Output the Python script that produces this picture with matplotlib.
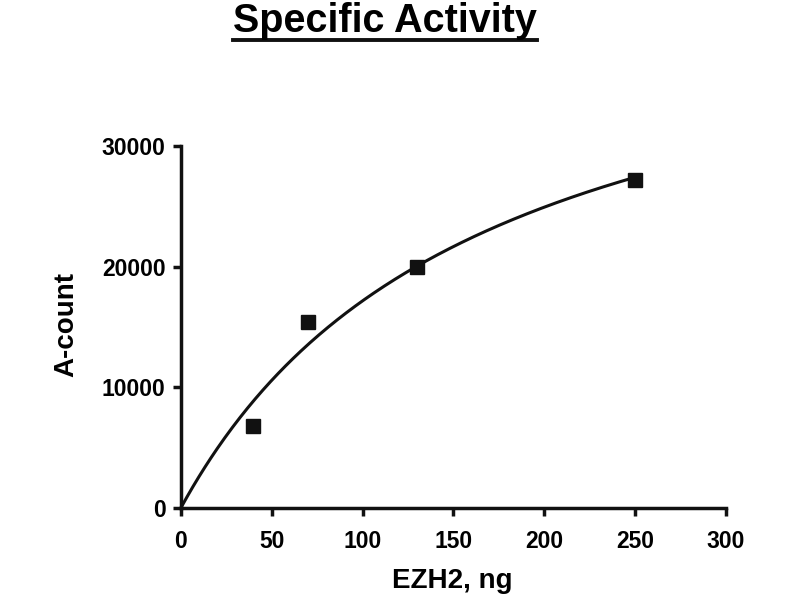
import numpy as np
import matplotlib
matplotlib.use("Agg")
import matplotlib.pyplot as plt
from matplotlib.lines import Line2D

# Data
ezh2_ng = [40, 70, 130, 250]
a_count = [6800, 15400, 20000, 27200]
x_ticks = [0, 50, 100, 150, 200, 250, 300]
y_ticks = [0, 10000, 20000, 30000]
title = "Specific Activity"
x_label = "EZH2, ng"
y_label = "A-count"

plt.rcParams['font.family'] = ['Liberation Sans', 'DejaVu Sans']
plt.rcParams['font.weight'] = 'bold'

# Hyperbolic (Michaelis-Menten type) least-squares fit through the data
xd = np.array(ezh2_ng, float)
yd = np.array(a_count, float)
best = None
for K in np.linspace(10, 600, 5901):
    f = xd / (K + xd)
    V = (f @ yd) / (f @ f)
    err = np.sum((yd - V * f) ** 2)
    if best is None or err < best[0]:
        best = (err, K, V)
_, Kfit, Vfit = best
xc = np.linspace(0, max(ezh2_ng), 300)
yc = Vfit * xc / (Kfit + xc)

fig = plt.figure(figsize=(8, 6), dpi=100)
ax = fig.add_axes([0.226, 0.1533, 0.6815, 0.6034])
ax.plot(xc, yc, color='#111111', lw=2.2, clip_on=False, zorder=2)
ax.plot(ezh2_ng, a_count, 's', color='#111111', ms=9.5, zorder=3, clip_on=False)

ax.set_xlim(0, 300)
ax.set_ylim(0, 30000)
ax.set_xticks(x_ticks)
ax.set_yticks(y_ticks)
ax.set_xticklabels([str(t) for t in x_ticks], fontsize=16.5, fontweight='bold')
ax.set_yticklabels([str(t) for t in y_ticks], fontsize=16.5, fontweight='bold')
for s in ['top', 'right']:
    ax.spines[s].set_visible(False)
for s in ['left', 'bottom']:
    ax.spines[s].set_linewidth(2.5)
    ax.spines[s].set_color('#111111')
ax.tick_params(direction='out', length=6, width=2.5, color='#111111', pad=5)
ax.tick_params(axis='x', pad=10)

ax.set_xlabel(x_label, fontsize=20, fontweight='bold')
ax.xaxis.label.set_va('baseline')
ax.xaxis.set_label_coords(0.497, -(588 - 508) / 362)
ax.set_ylabel(y_label, fontsize=20, fontweight='bold')
ax.yaxis.label.set_va('center')
ax.yaxis.label.set_ha('center')
ax.yaxis.set_label_coords((67 - 181) / 545, (508 - 325) / 362)

t = fig.text(385 / 800, 1 - 32 / 600, title, ha='center', va='baseline',
             fontsize=28.5, fontweight='bold')
fig.canvas.draw()
bb = t.get_window_extent(renderer=fig.canvas.get_renderer())
W, H = fig.bbox.width, fig.bbox.height
yline = 1 - 39.5 / 600
fig.add_artist(Line2D([bb.x0 / W, bb.x1 / W], [yline, yline], color='#111111', lw=2.8,
                      transform=fig.transFigure))

fig.savefig('out.png', dpi=100, facecolor='white')
